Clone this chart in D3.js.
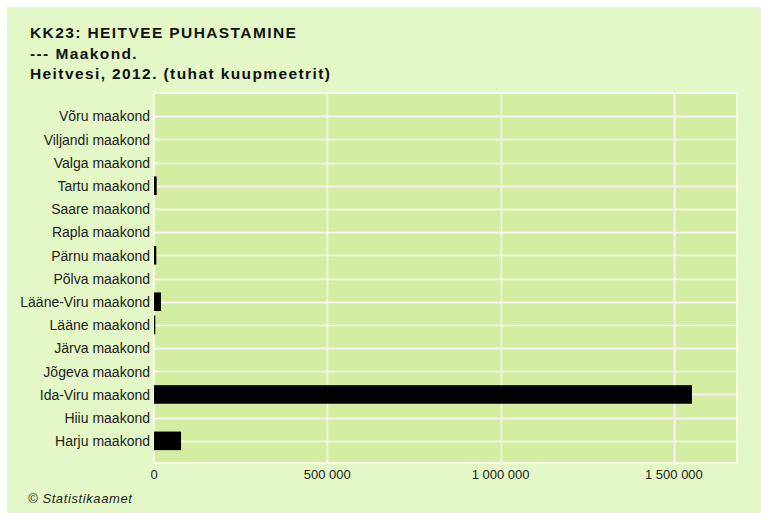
<!DOCTYPE html>
<html>
<head>
<meta charset="utf-8">
<script src="https://cdn.jsdelivr.net/npm/d3@7"></script>
<style>
  body { margin: 0; background: #fff; }
  text { font-family: "Liberation Sans", Arial, sans-serif; }
</style>
</head>
<body>
<div class="canvas"></div>
<script>
const counties = ['Võru maakond', 'Viljandi maakond', 'Valga maakond', 'Tartu maakond',
    'Saare maakond', 'Rapla maakond', 'Pärnu maakond', 'Põlva maakond',
    'Lääne-Viru maakond', 'Lääne maakond', 'Järva maakond', 'Jõgeva maakond',
    'Ida-Viru maakond', 'Hiiu maakond', 'Harju maakond'];
const values = [0, 0, 0, 7800, 0, 0, 6600, 0, 20000, 3700, 0, 0, 1552000, 0, 78000];
const xTicks = [0, 500000, 1000000, 1500000];
const titleLines = ['KK23: HEITVEE PUHASTAMINE', '--- Maakond.', 'Heitvesi, 2012. (tuhat kuupmeetrit)'];

const dims = {width: 761, height: 513};
const plot = {left: 154, right: 737, top: 93, bottom: 463};

const svg = d3.select('.canvas')
    .append('svg')
    .attr('width', dims.width)
    .attr('height', dims.height);

svg.append('rect')
    .attr('x', 7).attr('y', 7)
    .attr('width', dims.width - 7)
    .attr('height', dims.height - 7)
    .attr('fill', '#e3f8c6');

svg.selectAll('.title')
    .data(titleLines)
    .enter()
    .append('text')
    .attr('class', 'title')
    .attr('x', 30)
    .attr('y', (d, i) => 38 + i * 20.5)
    .attr('font-size', 15.5)
    .attr('font-weight', 'bold')
    .attr('letter-spacing', 1.4)
    .attr('fill', '#111')
    .text(d => d);

const x = d3.scaleLinear()
    .domain([0, 1682000])
    .range([plot.left, plot.right]);

const y = d3.scaleBand()
    .domain(counties)
    .range([102.25, 454.75])
    .padding(0.2);

svg.append('rect')
    .attr('x', plot.left).attr('y', plot.top)
    .attr('width', plot.right - plot.left)
    .attr('height', plot.bottom - plot.top)
    .attr('fill', '#d3eda1')
    .attr('stroke', '#fff')
    .attr('stroke-width', 1.5);

// grid
svg.selectAll('.hgrid')
    .data(counties)
    .enter()
    .append('line')
    .attr('x1', plot.left).attr('x2', plot.right)
    .attr('y1', d => Math.round(y(d) + y.bandwidth() / 2) + 0.5)
    .attr('y2', d => Math.round(y(d) + y.bandwidth() / 2) + 0.5)
    .attr('stroke', '#fff')
    .attr('stroke-width', 1.5);

svg.selectAll('.vgrid')
    .data(xTicks.slice(1))
    .enter()
    .append('line')
    .attr('x1', d => Math.round(x(d)) + 0.5)
    .attr('x2', d => Math.round(x(d)) + 0.5)
    .attr('y1', plot.top).attr('y2', plot.bottom)
    .attr('stroke', '#fff')
    .attr('stroke-width', 1.5);

// bars
svg.selectAll('.bar')
    .data(counties)
    .enter()
    .append('rect')
    .attr('x', x(0))
    .attr('y', d => y(d))
    .attr('width', (d, i) => x(values[i]) - x(0))
    .attr('height', y.bandwidth())
    .attr('fill', '#000');

// labels
svg.selectAll('.ylabel')
    .data(counties)
    .enter()
    .append('text')
    .attr('x', 150)
    .attr('y', d => y(d) + y.bandwidth() / 2)
    .attr('dy', '0.38em')
    .attr('text-anchor', 'end')
    .attr('font-size', 14)
    .attr('fill', '#222')
    .text(d => d);

const fmt = d3.formatLocale({decimal: ',', thousands: '\u00a0', grouping: [3], currency: ['', '']}).format(',d');

svg.selectAll('.xlabel')
    .data(xTicks)
    .enter()
    .append('text')
    .attr('x', d => x(d))
    .attr('y', 479)
    .attr('text-anchor', 'middle')
    .attr('font-size', 13)
    .attr('fill', '#222')
    .text(d => fmt(d));

svg.append('text')
    .attr('x', 28)
    .attr('y', 503)
    .attr('font-size', 13)
    .attr('font-style', 'italic')
    .attr('letter-spacing', 0.6)
    .attr('fill', '#222')
    .text('© Statistikaamet');
</script>
</body>
</html>
